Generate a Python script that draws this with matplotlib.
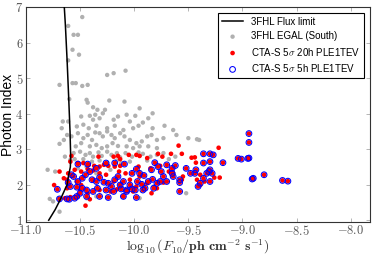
import matplotlib
matplotlib.use("Agg")
import matplotlib.pyplot as plt
from matplotlib.ticker import FuncFormatter, MultipleLocator

plt.rcParams['font.family'] = ['Liberation Sans', 'DejaVu Sans']
plt.rcParams['mathtext.fontset'] = 'cm'

# 3FHL flux limit curve (log flux, photon index)
limit_flux = [-10.79, -10.73, -10.68, -10.65, -10.62, -10.61, -10.59, -10.587, -10.593, -10.606, -10.62, -10.636, -10.646]
limit_index = [1.0, 1.3, 1.6, 1.8, 2.0, 2.2, 2.5, 2.8, 3.5, 4.5, 5.5, 6.5, 7.0]

# 3FHL EGAL (South) sources
gray_pts = [
    (-10.48, 6.72), (-10.61, 6.47), (-10.56, 6.22), (-10.52, 6.22), (-10.57, 5.80), (-10.51, 5.66),
    (-10.61, 5.50), (-10.69, 4.81), (-10.57, 4.86), (-10.54, 4.86), (-10.48, 4.78), (-10.43, 4.81),
    (-10.60, 4.41), (-10.44, 4.39), (-10.43, 4.31), (-10.25, 5.09), (-10.19, 5.14), (-10.08, 5.21),
    (-10.23, 4.37), (-10.34, 4.11), (-10.38, 4.18), (-10.09, 4.34), (-9.95, 4.15), (-9.99, 3.94),
    (-9.83, 4.01),
    (-10.66, 3.78), (-10.61, 3.78), (-10.49, 3.92), (-10.41, 3.94), (-10.38, 3.83), (-10.36, 3.97),
    (-10.32, 3.87), (-10.29, 4.01), (-10.27, 4.11), (-10.19, 3.83), (-10.15, 3.92), (-10.07, 3.97),
    (-10.04, 3.78), (-9.92, 3.75), (-9.87, 3.87), (-9.72, 3.66), (-9.64, 3.54), (-10.67, 3.59),
    (-10.53, 3.64), (-10.47, 3.69), (-10.42, 3.59), (-10.35, 3.66), (-10.25, 3.59), (-10.18, 3.66),
    (-10.10, 3.54), (-10.01, 3.59), (-9.96, 3.66), (-9.83, 3.59),
    (-10.69, 3.15), (-10.65, 3.26), (-10.62, 3.40), (-10.58, 3.36), (-10.52, 3.45), (-10.47, 3.31),
    (-10.43, 3.40), (-10.39, 3.26), (-10.36, 3.47), (-10.32, 3.45), (-10.29, 3.36), (-10.25, 3.50),
    (-10.21, 3.40), (-10.18, 3.31), (-10.13, 3.45), (-10.09, 3.36), (-10.04, 3.26), (-9.98, 3.17),
    (-9.93, 3.22), (-9.88, 3.36), (-9.84, 3.40), (-9.79, 3.26), (-9.73, 3.31), (-9.61, 3.40),
    (-9.50, 3.31), (-9.42, 3.28), (-9.40, 3.26), (-10.54, 3.08), (-10.49, 3.17), (-10.41, 3.08),
    (-10.35, 3.12), (-10.30, 3.03), (-10.25, 3.08), (-10.20, 3.17), (-10.15, 3.09), (-10.07, 3.08),
    (-10.01, 3.03), (-9.95, 3.08), (-9.87, 3.08), (-9.79, 3.03),
    (-10.56, 2.89), (-10.50, 2.93), (-10.45, 2.84), (-10.41, 2.89), (-10.38, 2.79), (-10.33, 2.91),
    (-10.30, 2.81), (-10.25, 2.93), (-10.21, 2.84), (-10.16, 2.89), (-10.13, 2.77), (-10.08, 2.89),
    (-10.02, 2.79), (-9.96, 2.91), (-9.92, 2.87), (-9.85, 2.79), (-9.79, 2.84), (-9.73, 2.89),
    (-10.64, 2.79), (-10.59, 2.70), (-10.55, 2.72), (-10.47, 2.72), (-10.39, 2.65), (-10.32, 2.68),
    (-10.25, 2.62), (-10.16, 2.68), (-10.12, 2.61), (-10.04, 2.65), (-9.88, 2.68), (-9.68, 2.72),
    (-9.62, 2.79),
    (-10.80, 2.42), (-10.73, 2.37), (-10.52, 2.46), (-10.44, 2.51), (-10.35, 2.32), (-10.22, 2.42),
    (-10.78, 1.60), (-10.75, 1.53), (-10.69, 1.24), (-10.70, 1.62), (-10.44, 1.62), (-10.35, 1.67),
    (-9.95, 1.62), (-9.82, 1.95), (-9.70, 2.09), (-9.52, 1.76),
]

# CTA-S 5 sigma 20h only (not detected in 5h)
red_only_pts = [
    (-10.58, 2.81), (-10.33, 2.79), (-10.19, 2.79), (-10.15, 2.81), (-10.13, 2.72), (-10.05, 2.84),
    (-9.98, 2.84), (-9.95, 2.81), (-9.88, 2.75), (-9.78, 2.87), (-9.74, 2.79), (-9.66, 2.87),
    (-9.59, 3.10), (-9.56, 2.87), (-9.47, 2.76), (-9.44, 2.77), (-9.22, 3.04), (-10.59, 2.65),
    (-10.52, 2.61), (-10.47, 2.61), (-10.42, 2.56), (-10.37, 2.53), (-10.32, 2.51), (-10.28, 2.56),
    (-10.24, 2.53), (-10.18, 2.51), (-10.13, 2.53), (-10.69, 2.37), (-10.61, 2.32), (-10.55, 2.42),
    (-10.49, 2.37), (-10.43, 2.44), (-10.38, 2.40), (-10.32, 2.32), (-10.26, 2.28), (-10.14, 2.37),
    (-10.08, 2.32), (-9.96, 2.51), (-9.85, 2.46), (-9.76, 2.53), (-9.68, 2.37), (-9.64, 2.32),
    (-9.55, 2.23), (-9.43, 2.62), (-9.39, 2.28), (-9.26, 2.20), (-9.21, 2.20), (-10.74, 1.99),
    (-10.65, 2.18), (-10.62, 2.14), (-10.53, 2.09), (-10.49, 1.99), (-10.38, 2.14), (-10.19, 2.09),
    (-10.13, 1.99), (-10.04, 2.14), (-9.98, 1.95), (-9.95, 2.23), (-9.88, 2.04), (-9.79, 1.90),
    (-9.73, 2.06), (-9.56, 2.14), (-9.42, 2.14), (-9.39, 1.99), (-9.35, 2.09), (-10.62, 1.90),
    (-10.50, 1.85), (-10.43, 1.76), (-10.32, 1.85), (-10.22, 1.81), (-10.16, 1.87), (-10.01, 1.81),
    (-9.84, 1.76), (-10.64, 1.62), (-10.59, 1.65), (-10.52, 1.67), (-10.41, 1.59), (-10.10, 1.67),
    (-10.45, 1.41),
]

# CTA-S 5 sigma 5h (also detected in 20h)
blue_pts = [
    (-10.71, 1.87), (-10.69, 1.60), (-10.62, 1.60), (-10.61, 2.06), (-10.52, 2.58), (-10.43, 2.58),
    (-10.41, 2.37), (-10.35, 2.46), (-10.26, 2.61), (-10.18, 2.61), (-10.09, 2.58), (-10.02, 2.32),
    (-9.98, 2.44), (-9.95, 2.32), (-9.91, 2.26), (-9.84, 2.42), (-9.81, 2.62), (-9.78, 2.51),
    (-9.75, 2.37), (-9.70, 2.56), (-9.65, 2.46), (-9.62, 2.54), (-9.65, 2.32), (-9.64, 2.23),
    (-9.58, 2.14), (-9.52, 2.46), (-9.48, 2.32), (-9.43, 2.42), (-9.36, 2.87), (-9.30, 2.87),
    (-9.27, 2.84), (-9.36, 2.61), (-9.30, 2.65), (-9.30, 2.42), (-9.28, 2.32), (-9.18, 2.62),
    (-9.04, 2.74), (-9.01, 2.72), (-8.95, 2.74), (-8.94, 3.44), (-8.94, 3.19), (-8.94, 2.75),
    (-9.36, 2.18), (-9.30, 2.09), (-9.39, 2.04), (-9.41, 1.95), (-9.58, 1.81), (-9.58, 2.06),
    (-9.44, 2.32), (-9.33, 2.32), (-9.31, 2.37), (-8.91, 2.16), (-8.90, 2.18), (-8.80, 2.28),
    (-8.63, 2.12), (-8.58, 2.10), (-10.58, 2.28), (-10.56, 2.23), (-10.52, 2.09), (-10.48, 2.18),
    (-10.45, 2.28), (-10.39, 2.14), (-10.35, 2.09), (-10.32, 2.20), (-10.28, 2.07), (-10.24, 2.04),
    (-10.18, 2.14), (-10.15, 2.23), (-10.13, 1.99), (-10.10, 2.09), (-10.07, 1.85), (-10.04, 1.99),
    (-10.02, 1.88), (-9.97, 2.09), (-9.93, 2.01), (-9.90, 1.90), (-9.87, 2.09), (-9.83, 2.15),
    (-9.79, 2.04), (-9.76, 2.09), (-9.73, 2.23), (-9.70, 2.09), (-10.59, 1.95), (-10.53, 1.93),
    (-10.48, 1.90), (-10.44, 1.85), (-10.38, 1.81), (-10.34, 1.90), (-10.26, 1.85), (-10.21, 1.95),
    (-10.19, 1.81), (-10.12, 1.88), (-10.07, 1.81), (-9.99, 1.85), (-9.92, 1.85), (-9.82, 1.90),
    (-10.55, 1.62), (-10.53, 1.67), (-10.50, 1.76), (-10.44, 1.67), (-10.32, 1.67), (-10.24, 1.64),
    (-10.10, 1.67), (-9.98, 1.64), (-10.60, 1.59),
]

labels = ["3FHL Flux limit", "3FHL EGAL (South)",
          r"CTA-S 5$\sigma$ 20h PLE1TEV", r"CTA-S 5$\sigma$ 5h PLE1TEV"]

gx = [p[0] for p in gray_pts]; gy = [p[1] for p in gray_pts]
red_all = red_only_pts + blue_pts
rx = [p[0] for p in red_all]; ry = [p[1] for p in red_all]
bx = [p[0] for p in blue_pts]; by = [p[1] for p in blue_pts]

fig = plt.figure(figsize=(3.82, 2.54), dpi=100)
ax = fig.add_axes([0.068, 0.126, 0.901, 0.846])

ax.plot(limit_flux, limit_index, color='black', lw=1.1, zorder=4, label=labels[0])
ax.scatter(gx, gy, s=10, color='#b0b0b0', edgecolors='none', zorder=1, label=labels[1])
ax.scatter(rx, ry, s=11, color='red', edgecolors='none', zorder=2, label=labels[2])
ax.scatter(bx, by, s=17, facecolors='none', edgecolors='blue', linewidths=0.75, zorder=3, label=labels[3])

ax.set_xlim(-11.0, -7.82)
ax.set_ylim(0.95, 7.0)
ax.xaxis.set_major_locator(MultipleLocator(0.5))
ax.yaxis.set_major_locator(MultipleLocator(1))
ax.xaxis.set_major_formatter(FuncFormatter(lambda v, p: r'$%.1f$' % v))
ax.yaxis.set_major_formatter(FuncFormatter(lambda v, p: r'$%d$' % round(v)))
ax.tick_params(direction='in', length=3, width=0.6, colors='#aaaaaa',
               labelcolor='#555555', labelsize=9, top=True, right=True, pad=2)
ax.tick_params(axis='x', pad=1.2)
for s in ax.spines.values():
    s.set_color('#333333')
    s.set_linewidth(0.8)

ax.set_ylabel("Photon Index", fontsize=10)
ax.yaxis.set_label_coords(-0.031, 0.5)
ax.set_xlabel(r'$\log_{10}(F_{10}/\mathbf{ph\ cm^{-2}\ s^{-1}})$', fontsize=10, color='#333333')
ax.xaxis.set_label_coords(0.5, -0.07)

leg = ax.legend(loc='upper right', fontsize=7, frameon=True, fancybox=False,
                edgecolor='black', framealpha=1, borderaxespad=0.6,
                handlelength=2.2, labelspacing=0.45, scatterpoints=1)
leg.get_frame().set_linewidth(0.8)

fig.savefig("out.png", dpi=100)
